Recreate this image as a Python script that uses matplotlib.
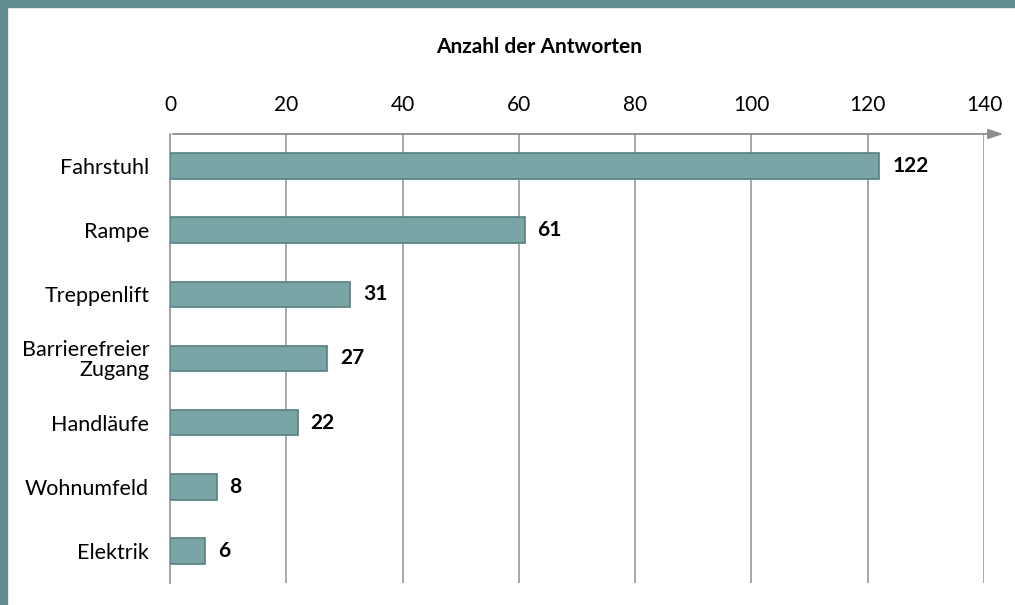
import matplotlib.pyplot as plt
from matplotlib.patches import Rectangle

categories = ["Fahrstuhl", "Rampe", "Treppenlift", "Barrierefreier\nZugang",
              "Handläufe", "Wohnumfeld", "Elektrik"]
values = [122, 61, 31, 27, 22, 8, 6]
ticks = [0, 20, 40, 60, 80, 100, 120, 140]

plt.rcParams['font.family'] = ['Lato', 'DejaVu Sans']

fig = plt.figure(figsize=(10.15, 6.05), dpi=100)
# teal frame at top and left
fig.patches.append(Rectangle((0, 1 - 7 / 605), 1, 7 / 605, transform=fig.transFigure,
                             color='#5f8c8f', zorder=0))
fig.patches.append(Rectangle((0, 0), 7 / 1015, 1, transform=fig.transFigure,
                             color='#5f8c8f', zorder=0))

ax = fig.add_axes([170 / 1015, 22 / 605, 814 / 1015, 449 / 605])
y = list(range(len(categories)))
ax.barh(y, values, height=0.4, color='#7aa5a6', edgecolor='#55807f', linewidth=1.2, zorder=3)
ax.set_ylim(len(categories) - 0.5, -0.5)
ax.set_xlim(0, 140)

ax.set_xticks(ticks)
ax.xaxis.tick_top()
ax.tick_params(axis='x', length=0, pad=14, labelsize=15)
ax.set_yticks(y)
ax.set_yticklabels(categories, fontsize=15.5, multialignment='right', linespacing=1.0)
ax.tick_params(axis='y', length=0, pad=15)

ax.grid(axis='x', color='#a0a0a0', linewidth=1.3, zorder=0)
for s in ['right', 'bottom', 'top']:
    ax.spines[s].set_visible(False)
ax.spines['left'].set_color('#a0a0a0')
ax.spines['left'].set_linewidth(1.3)

# top axis line with arrow
ax.annotate('', xy=(143.8, -0.5), xytext=(0, -0.5), xycoords='data',
            arrowprops=dict(arrowstyle='-|>,head_length=0.9,head_width=0.3',
                            color='#8c8c8c', lw=1.3), annotation_clip=False)

for yi, v in zip(y, values):
    ax.text(v + 2.2, yi, str(v), va='center', ha='left', fontsize=15,
            fontweight='bold', zorder=4)

fig.text(539 / 1015, 1 - 47 / 605, "Anzahl der Antworten", ha='center', va='center',
         fontsize=15, fontweight='bold')

fig.savefig('out.png', dpi=100)
